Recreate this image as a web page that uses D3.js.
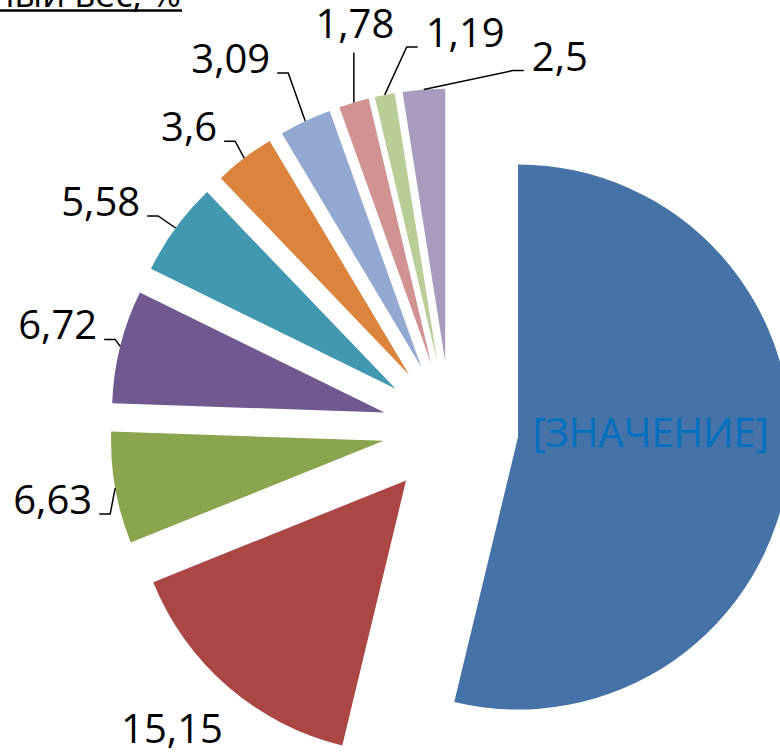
<!DOCTYPE html>
<html>
<head>
<meta charset="utf-8">
<script src="https://cdn.jsdelivr.net/npm/d3@7"></script>
<style>
  body { margin: 0; background: #fff; }
  svg { display: block; }
  text { font-family: "Open Sans", "Liberation Sans", sans-serif; }
</style>
</head>
<body>
<svg id="chart" width="780" height="756"></svg>
<script>
/*Chart data*/
var sliceNames = ["Категория 1", "Категория 2", "Категория 3", "Категория 4", "Категория 5",
                  "Категория 6", "Категория 7", "Категория 8", "Категория 9", "Категория 10"];
var sliceValues = [53.76, 15.15, 6.63, 6.72, 5.58, 3.6, 3.09, 1.78, 1.19, 2.5];
var sliceColors = ["#4572a7", "#aa4643", "#89a54e", "#71588f", "#4198af",
                   "#db843d", "#93a9cf", "#d19392", "#b9cd96", "#a99bbd"];
var titleText = "Удельный вес, %";

/*Layout*/
var svg = d3.select("#chart");
var cx = 450.5, cy = 429;     // pie centre before explosion
var radius = 272.5;
var explode = 68;

// leader elbow offsets from the outer mid point of each slice (layout only)
var leaderLayout = [null, null, [-5, 26, "left"], [-5, -7, "left"], [-17.5, -12, "left"],
                    [-9, -17, "left"], [-17, -48, "left"], [0, -50, "up"],
                    [22, -48, "right"], [89, -19, "right"]];

function labelText(i){
  if (i === 0) return "[ЗНАЧЕНИЕ]";
  return String(sliceValues[i]).replace(".", ",");
}

function dir(a){
  return [Math.sin(a), -Math.cos(a)];
}

var pie = d3.pie().sort(null).value(function(d){ return d; })
  .startAngle(0).endAngle(2 * Math.PI);
var arc = d3.arc().innerRadius(0).outerRadius(radius);
var arcs = pie(sliceValues);

var g = svg.append("g").attr("transform", "translate(" + cx + "," + cy + ")");

//Draw slices, each pushed out along its mid angle
g.selectAll("path.slice")
  .data(arcs)
  .enter().append("path")
  .attr("class", "slice")
  .attr("d", arc)
  .attr("fill", function(d, i){ return sliceColors[i]; })
  .attr("transform", function(d){
    var m = dir((d.startAngle + d.endAngle) / 2);
    return "translate(" + (m[0] * explode) + "," + (m[1] * explode) + ")";
  });

//Labels and leader lines
var lab = g.append("g").attr("class", "labels");
arcs.forEach(function(d, i){
  var mid = (d.startAngle + d.endAngle) / 2;
  var m = dir(mid);
  var px = m[0] * (explode + radius), py = m[1] * (explode + radius);

  if (i === 0){
    var k = explode + radius * 0.49;
    lab.append("text")
      .attr("x", m[0] * k).attr("y", m[1] * k - 6)
      .attr("text-anchor", "middle")
      .attr("font-size", 40)
      .attr("fill", "#0070c0")
      .text(labelText(i));
    return;
  }
  if (i === 1){
    lab.append("text")
      .attr("x", px - 56).attr("y", py + 56)
      .attr("text-anchor", "middle")
      .attr("font-size", 40)
      .attr("fill", "#000")
      .text(labelText(i));
    return;
  }

  var lay = leaderLayout[i];
  var ex = px + lay[0], ey = py + lay[1];
  var pts, tx, ty, anchor;
  if (lay[2] === "left"){
    pts = [[px, py], [ex, ey], [ex - 11, ey]];
    tx = ex - 18; ty = ey; anchor = "end";
  } else if (lay[2] === "right"){
    pts = [[px, py], [ex, ey], [ex + 11, ey]];
    tx = ex + 19; ty = ey; anchor = "start";
  } else {
    pts = [[px, py], [ex, ey]];
    tx = ex + 1; ty = ey - 15; anchor = "middle";
  }
  lab.append("path")
    .attr("d", d3.line()(pts))
    .attr("fill", "none")
    .attr("stroke", "#000")
    .attr("stroke-width", 1.5);
  lab.append("text")
    .attr("x", tx).attr("y", ty)
    .attr("text-anchor", anchor)
    .attr("font-size", 40)
    .attr("fill", "#000")
    .text(labelText(i));
});

/*Title, cut off by the top left corner*/
svg.append("text")
  .attr("x", 181).attr("y", 7)
  .attr("text-anchor", "end")
  .attr("font-size", 36)
  .attr("fill", "#000")
  .text(titleText);
svg.append("line")
  .attr("x1", 0).attr("x2", 182)
  .attr("y1", 10.5).attr("y2", 10.5)
  .attr("stroke", "#000")
  .attr("stroke-width", 2.5);
</script>
</body>
</html>
